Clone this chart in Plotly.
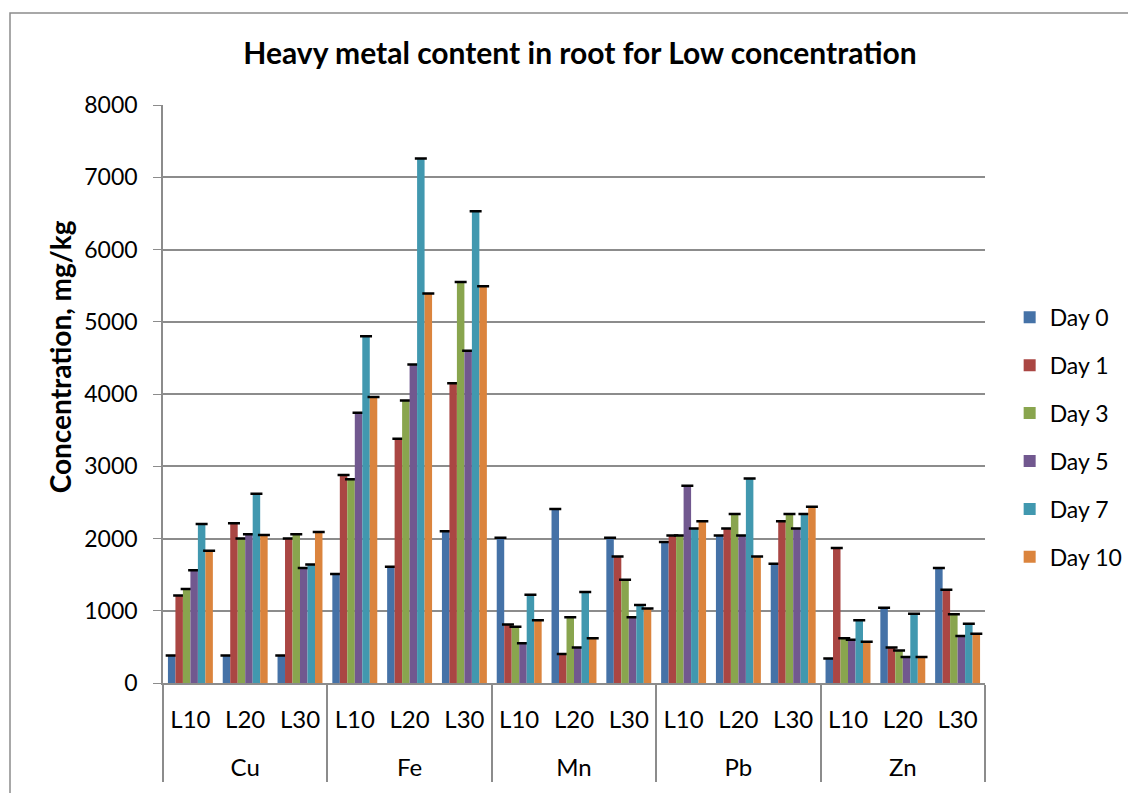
import plotly.graph_objects as go

metals = ["Cu", "Fe", "Mn", "Pb", "Zn"]
levels = ["L10", "L20", "L30"]
days = ["Day 0", "Day 1", "Day 3", "Day 5", "Day 7", "Day 10"]

# values per day, ordered Cu L10..L30, Fe L10..L30, Mn, Pb, Zn
day0 = [380, 380, 380, 1510, 1610, 2100, 2010, 2410, 2010, 1950, 2040, 1650, 340, 1040, 1590]
day1 = [1210, 2210, 2000, 2880, 3380, 4150, 810, 400, 1750, 2040, 2140, 2240, 1870, 490, 1290]
day3 = [1300, 2000, 2060, 2820, 3910, 5550, 780, 910, 1430, 2040, 2340, 2340, 620, 450, 950]
day5 = [1560, 2060, 1590, 3740, 4410, 4600, 550, 490, 910, 2730, 2040, 2140, 600, 360, 650]
day7 = [2200, 2620, 1640, 4800, 7260, 6530, 1220, 1260, 1080, 2140, 2830, 2340, 870, 960, 820]
day10 = [1830, 2050, 2090, 3960, 5390, 5490, 870, 620, 1030, 2240, 1750, 2440, 570, 360, 680]
errors = [0] * 15

series = [day0, day1, day3, day5, day7, day10]
colors = ["#4572A7", "#AA4643", "#89A54E", "#71588F", "#4198AF", "#DB843D"]

# outer labels get a leading line break so they sit on a lower row
x_outer = ["<br>" + m for m in metals for _ in levels]
x_inner = [l for _ in metals for l in levels]

fig = go.Figure()
for name, vals, col in zip(days, series, colors):
    fig.add_trace(go.Bar(
        x=[x_outer, x_inner], y=vals, name=name, legendgroup=name,
        marker=dict(color=col, line=dict(width=0)),
        error_y=dict(type="data", array=errors, visible=True,
                     color="black", thickness=2.5, width=6),
    ))

font = "Lato, 'Open Sans', sans-serif"
fig.update_layout(
    width=1136, height=793,
    margin=dict(l=155, r=159, t=97, b=118),
    paper_bgcolor="white", plot_bgcolor="white",
    barmode="group", bargap=0.18, bargroupgap=0,
    font=dict(family=font, size=23, color="black"),
    title=dict(text="<b>Heavy metal content in root for Low concentration</b>",
               x=0.5035, xanchor="center", y=0.943, yanchor="middle",
               font=dict(family=font, size=30, color="black")),
    legend=dict(x=1.03, y=0.425, xanchor="left", yanchor="middle",
                font=dict(family=font, size=23), tracegroupgap=15,
                itemwidth=30, bgcolor="rgba(0,0,0,0)"),
    showlegend=True,
)
fig.update_yaxes(
    range=[0, 8000], dtick=1000, showgrid=True, gridcolor="#8c8c8c", gridwidth=1.5,
    showline=True, linecolor="#8c8c8c", linewidth=1.5,
    ticks="outside", ticklen=8, tickcolor="#8c8c8c", ticklabelstandoff=11,
    tickfont=dict(family=font, size=23), zeroline=False,
)
fig.update_xaxes(
    type="multicategory", showline=True, linecolor="#8c8c8c", linewidth=1.5,
    showdividers=True, dividercolor="#8c8c8c", dividerwidth=1.5,
    ticks="", ticklabelstandoff=14,
    tickfont=dict(family=font, size=24),
)
# y-axis title
fig.add_annotation(text="<b>Concentration, mg/kg</b>", textangle=-90,
                   xref="paper", yref="paper", x=-0.125, y=(683-357)/578,
                   xanchor="center", yanchor="middle", showarrow=False,
                   font=dict(family=font, size=28, color="black"))
# outer chart border
fig.add_shape(type="rect", xref="paper", yref="paper",
              x0=-153/822, x1=1.3, y0=-0.4, y1=(683-13)/578,
              line=dict(color="#8c8c8c", width=1.5), layer="below")

fig.write_html("out.html")
